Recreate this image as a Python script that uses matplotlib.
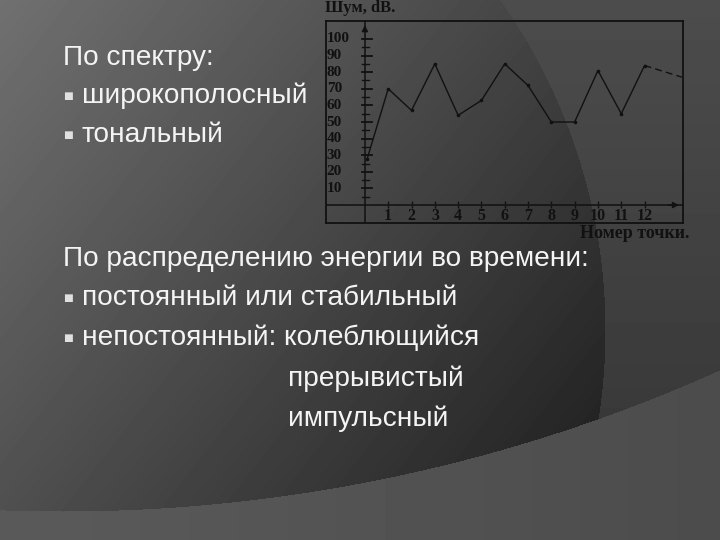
import numpy as np
import matplotlib
matplotlib.use("Agg")
import matplotlib.pyplot as plt

# chart data
point_x = [0.1, 1, 2, 3, 4, 5, 6, 7, 8, 9, 10, 11, 12]
noise_db = [28, 70, 57, 85, 54, 63, 85, 72, 50, 50, 81, 55, 84]
tail_x = [12, 13.6]
tail_db = [84, 77]
x_ticks = [1, 2, 3, 4, 5, 6, 7, 8, 9, 10, 11, 12]
y_ticks = [10, 20, 30, 40, 50, 60, 70, 80, 90, 100]

# slide text
heading1 = "По спектру:"
items1 = ["широкополосный", "тональный"]
heading2 = "По распределению энергии во времени:"
items2 = ["постоянный или стабильный", "непостоянный: колеблющийся"]
extra2 = ["прерывистый", "импульсный"]

W, H = 720, 540
fig = plt.figure(figsize=(7.2, 5.4), dpi=100)

# background: dark disc, upper right area, lighter lower band
yy, xx = np.mgrid[0:H, 0:W].astype(float)
bg = 0.30 - 0.00018 * yy
disc = (xx - 34) ** 2 + (yy - 330) ** 2 < 571 ** 2
bg[disc] = np.clip(0.44 - 0.00032 * xx - 0.00025 * yy, 0.14, 1)[disc]
band = (xx - 62) ** 2 + (yy + 1092) ** 2 > 1603 ** 2
bg[band] = (0.355 - 0.00008 * xx)[band]
bga = fig.add_axes([0, 0, 1, 1])
bga.imshow(bg, cmap="gray", vmin=0, vmax=1, extent=[0, W, H, 0], aspect="auto",
           interpolation="bilinear")
bga.set_xlim(0, W)
bga.set_ylim(H, 0)
bga.axis("off")

txt = dict(color="#f4f4f4", fontsize=20.2, family=["Liberation Sans", "DejaVu Sans"],
           va="baseline")
bul = dict(color="#e0e0e0", fontsize=7.5, family=["DejaVu Sans"], va="baseline")


def line(x, y, s, **kw):
    fig.text(x / W, 1 - y / H, s, **kw)


line(63, 65, heading1, **txt)
for i, s in enumerate(items1):
    line(63, 99 + 39 * i, "■", **bul)
    line(82, 103 + 39 * i, s, **txt)
line(63, 266, heading2, **txt)
for i, s in enumerate(items2):
    line(63, 301 + 40 * i, "■", **bul)
    line(82, 305 + 40 * i, s, **txt)
for i, s in enumerate(extra2):
    line(288, 386 + 40 * i, s, **txt)

# the chart
ink = "#111111"
serif = dict(family=["Liberation Serif", "DejaVu Serif"], weight="bold", color=ink)
ax = fig.add_axes([326 / W, 1 - 223 / H, 357 / W, 202 / H])
ax.patch.set_alpha(0)
ax.set_xlim(-1.67, 13.65)
ax.set_ylim(-10.8, 110.8)
for sp in ax.spines.values():
    sp.set_color(ink)
    sp.set_linewidth(1.3)
ax.set_xticks([])
ax.set_yticks([])

ax.axhline(0, color=ink, lw=1.1)
ax.axvline(0, color=ink, lw=1.1)
ax.annotate("", xy=(13.6, 0), xytext=(12.9, 0),
            arrowprops=dict(arrowstyle="-|>", color=ink, lw=1, mutation_scale=9))
ax.annotate("", xy=(0, 110), xytext=(0, 105),
            arrowprops=dict(arrowstyle="-|>", color=ink, lw=1, mutation_scale=9))

for v in range(5, 105, 5):
    if v % 10 == 0:
        ax.plot([-0.13, 0.32], [v, v], color=ink, lw=1.3)
    else:
        ax.plot([-0.13, 0.18], [v, v], color=ink, lw=1.0)
for v in y_ticks:
    ax.text(-1.64, v, str(v), ha="left", va="center", fontsize=11, **serif)
for v in x_ticks:
    ax.plot([v, v], [-1.5, 3], color=ink, lw=1.0, ls=(0, (2, 1)))
    ax.text(v, -6.3, str(v), ha="center", va="center", fontsize=11.5, **serif)

ax.plot(point_x, noise_db, color=ink, lw=1.0, marker="o", ms=1.6)
ax.plot(tail_x, tail_db, color=ink, lw=1.0, ls=(0, (5, 3)))

fig.text(325 / W, 1 - 8 / H, "Шум, dB.", ha="left", va="center", fontsize=12, **serif)
fig.text(689 / W, 1 - 233 / H, "Номер точки.", ha="right", va="center", fontsize=13,
         **serif)

fig.savefig("out.png", dpi=100)
